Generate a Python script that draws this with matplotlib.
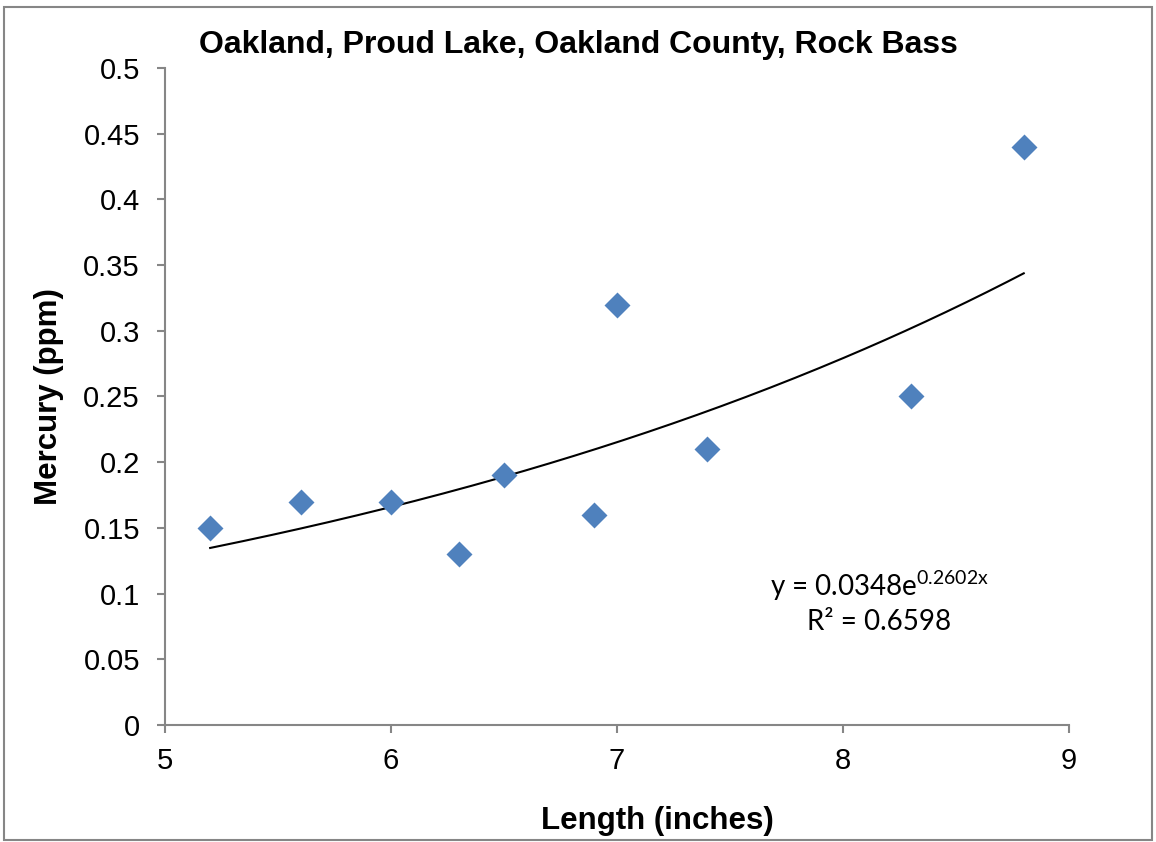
import numpy as np
import matplotlib
matplotlib.use('Agg')
import matplotlib.pyplot as plt
from matplotlib.patches import Rectangle

# Rock bass samples, Proud Lake
length_in = [5.2, 5.6, 6.0, 6.3, 6.5, 6.9, 7.0, 7.4, 8.3, 8.8]
mercury_ppm = [0.15, 0.17, 0.17, 0.13, 0.19, 0.16, 0.32, 0.21, 0.25, 0.44]

x_ticks = [5, 6, 7, 8, 9]
y_ticks = [0, 0.05, 0.1, 0.15, 0.2, 0.25, 0.3, 0.35, 0.4, 0.45, 0.5]
y_tick_labels = ['0', '0.05', '0.1', '0.15', '0.2', '0.25', '0.3', '0.35', '0.4', '0.45', '0.5']

plt.rcParams['font.family'] = ['Liberation Sans', 'DejaVu Sans']

fig = plt.figure(figsize=(11.56, 8.42), dpi=100)
ax = fig.add_axes([0.1427, 0.139, 0.782, 0.7802])

ax.scatter(length_in, mercury_ppm, marker='D', s=175, color='#4F81BD', zorder=3, linewidths=0)

# exponential trendline, fitted like Excel does (least squares on ln y)
b, ln_a = np.polyfit(length_in, np.log(mercury_ppm), 1)
xs = np.linspace(min(length_in), max(length_in), 200)
ax.plot(xs, np.exp(ln_a) * np.exp(b * xs), '-', color='black', linewidth=1.5, zorder=2)

ax.set_xlim(5, 9)
ax.set_ylim(0, 0.5)
ax.set_xticks(x_ticks)
ax.set_yticks(y_ticks)
ax.set_yticklabels(y_tick_labels)

for side in ['top', 'right']:
  ax.spines[side].set_visible(False)
for side in ['left', 'bottom']:
  ax.spines[side].set_color('#868686')
  ax.spines[side].set_linewidth(1.5)
ax.tick_params(direction='out', length=6, width=1.5, color='#868686', labelsize=21)
ax.tick_params(axis='y', pad=12)
ax.tick_params(axis='x', pad=10)

ax.set_xlabel('Length (inches)', fontsize=22.5, fontweight='bold')
ax.xaxis.set_label_coords(0.545, -0.123)
ax.set_ylabel('Mercury (ppm)', fontsize=22.5, fontweight='bold', labelpad=14)
fig.text(0.5, 0.946, 'Oakland, Proud Lake, Oakland County, Rock Bass', ha='center', va='center',
         fontsize=23, fontweight='bold')

ax.text(8.16, 0.106, r'y = 0.0348e$^{\mathregular{0.2602x}}$', ha='center', va='center', fontsize=20, family='Lato')
ax.text(8.16, 0.0785, 'R² = 0.6598', ha='center', va='center', fontsize=20, family='Lato')

fig.patches.append(Rectangle((0.0035, 0.002), 0.993, 0.99, transform=fig.transFigure, fill=False,
                             edgecolor='#868686', linewidth=1.5))

fig.savefig('out.png', dpi=100)
